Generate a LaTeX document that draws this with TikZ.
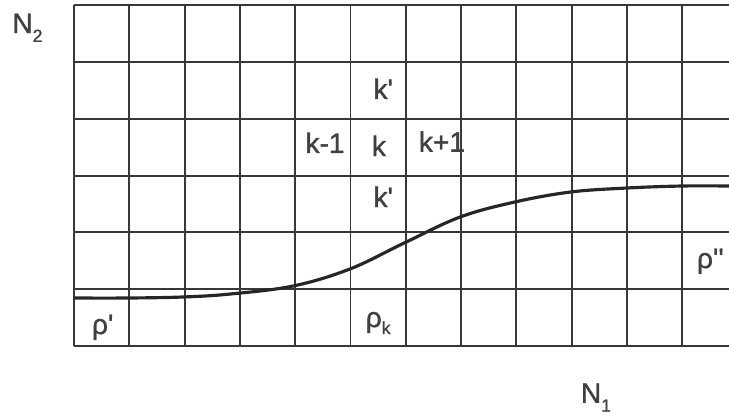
\documentclass[tikz,border=0pt]{standalone}
\usepackage{fontspec}
\newfontfamily\labelfont{Liberation Sans}[FakeBold=1.2]
\newcommand{\lowsub}[2][5pt]{\raisebox{-#1}{\fontsize{10}{10}\selectfont #2}}
\begin{document}
\begin{tikzpicture}[x=1.106cm, y=1.136cm,
    gridline/.style={draw=black!78, line width=1.1pt},
    curve/.style={draw=black!85, line width=1.8pt},
    lab/.style={font=\labelfont\fontsize{16}{19}\selectfont, text=black!75, inner sep=0pt, anchor=base west}]
    \useasboundingbox (-1.338,-1.285) rectangle (11.845,6.092);
    \foreach \i in {0,...,11} \draw[gridline] (\i,0) -- (\i,6);
    \foreach \j in {0,...,6} \draw[gridline] (0,\j) -- (11.845,\j);
    \draw[curve] plot[smooth, tension=0.6] coordinates {(0,0.845) (0.96,0.845) (1.97,0.863) (2.82,0.915) (3.96,1.056) (4.99,1.356) (5.97,1.813) (6.98,2.27) (7.97,2.535) (8.97,2.71) (9.96,2.78) (10.99,2.817) (11.845,2.817)};
    \node[lab] (kup) at (5.41,4.35) {k'};
    \node[lab] (kleft) at (4.18,3.40) {k-1};
    \node[lab] (kmid) at (5.38,3.345) {k};
    \node[lab] (kright) at (6.23,3.42) {k+1};
    \node[lab] (kdown) at (5.41,2.447) {k'};
    \node[lab] (rholeft) at (0.32,0.211) {ρ'};
    \node[lab] (rhok) at (5.27,0.334) {ρ\lowsub[4pt]{k}};
    \node[lab] (rhoright) at (11.26,1.373) {ρ''};
    \node[lab] (naxis2) at (-1.12,5.51) {N\lowsub{2}};
    \node[lab] (naxis1) at (9.16,-1.0) {N\lowsub{1}};
\end{tikzpicture}
\end{document}
